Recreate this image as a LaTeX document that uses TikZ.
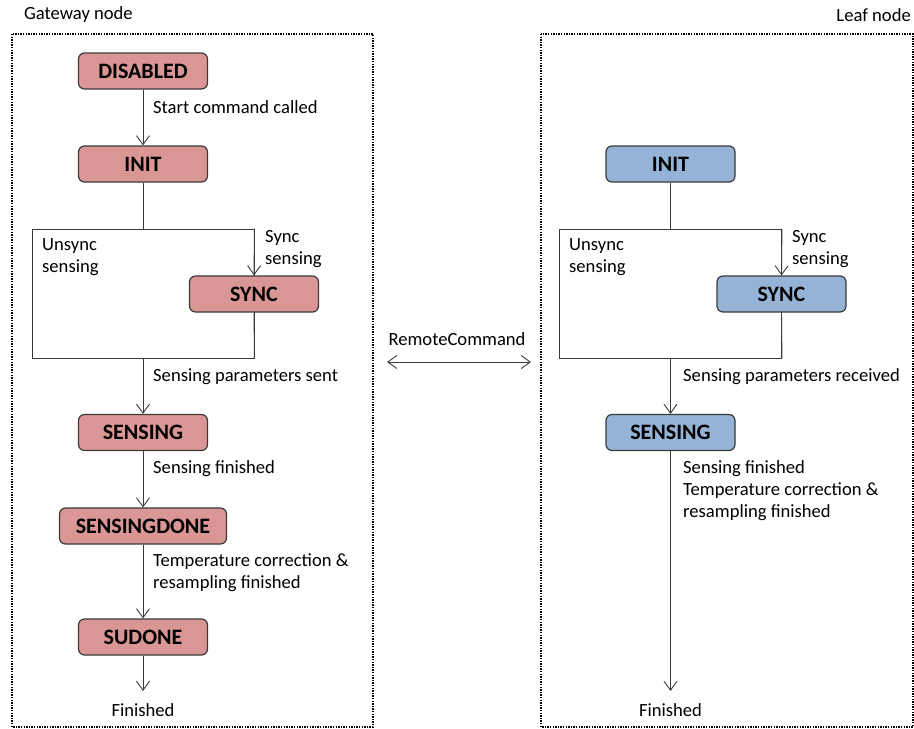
\documentclass[tikz,border=0pt]{standalone}
\usepackage{fontspec}
\setmainfont{Carlito}
\usetikzlibrary{arrows.meta}
\definecolor{redfill}{HTML}{D99694}
\definecolor{bluefill}{HTML}{95B3D7}
\definecolor{edge}{HTML}{3A3A3A}
\begin{document}
\begin{tikzpicture}[x=1pt,y=-1pt,
  stbox/.style={draw=edge, line width=1.2pt, rounded corners=6pt, minimum width=129pt, minimum height=36pt, inner sep=0pt, font=\fontsize{22}{26}\selectfont\bfseries},
  rbox/.style={stbox, fill=redfill},
  bbox/.style={stbox, fill=bluefill},
  lbl/.style={inner sep=0pt, align=left, font=\fontsize{18.6}{22}\selectfont},
  arr/.style={draw=edge, line width=0.9pt, -{Straight Barb[length=9pt,width=13pt]}},
  ln/.style={draw=edge, line width=0.9pt},
  grp/.style={draw=edge, line width=0.9pt, inner sep=0pt, minimum width=222pt, minimum height=129pt},
  frame/.style={draw=black, line width=1.4pt, dash pattern=on 1.4pt off 1.2pt}
]
\useasboundingbox (0,0) rectangle (914,729);
% frames
\draw[frame] (12,34) rectangle (373,727);
\draw[frame] (541,34) rectangle (913,727);
\node[lbl, anchor=west] (gw) at (24,15) {Gateway node};
\node[lbl, anchor=east] (lf) at (911,15) {Leaf node};

% left column
\node[rbox] (ldis) at (143,71) {DISABLED};
\node[rbox] (linit) at (143,164) {INIT};
\node[grp] (lrect) at (143,293.5) {};
\node[rbox] (lsync) at (254,294) {SYNC};
\node[rbox] (lsens) at (143,432.5) {SENSING};
\node[rbox, minimum width=167pt] (ldone) at (143,526) {SENSINGDONE};
\node[rbox] (lsud) at (143,637) {SUDONE};
\coordinate (lend) at (143,691);
\node[lbl] (lfin) at (143,710) {Finished};

\draw[arr] (ldis) -- (linit);
\draw[ln] (linit) -- (lrect.north);
\draw[arr] (lrect.north east) -- (lsync.north);
\draw[ln] (lsync.south) -- (lrect.south east);
\draw[arr] (lrect.south) -- (lsens);
\draw[arr] (lsens) -- (ldone);
\draw[arr] (ldone) -- (lsud);
\draw[arr] (lsud) -- (lend);

\node[lbl, anchor=west] (t1) at (153,107) {Start command called};
\node[lbl, anchor=west] (t2) at (42,257) {Unsync\\sensing};
\node[lbl, anchor=west] (t3) at (265,249) {Sync\\sensing};
\node[lbl, anchor=west] (t4) at (153,377) {Sensing parameters sent};
\node[lbl, anchor=west] (t5) at (153,469) {Sensing finished};
\node[lbl, anchor=west] (t6) at (153,573) {Temperature correction \&\\resampling finished};

% middle
\node[lbl] (rc) at (457,339) {RemoteCommand};
\coordinate (ra) at (387,362);
\coordinate (rb) at (531,362);
\draw[draw=edge, line width=0.9pt, {Straight Barb[length=9pt,width=13pt]}-{Straight Barb[length=9pt,width=13pt]}] (ra) -- (rb);

% right column
\node[bbox] (rinit) at (670.5,164) {INIT};
\node[grp] (rrect) at (670.5,293.5) {};
\node[bbox] (rsync) at (781.5,294) {SYNC};
\node[bbox] (rsens) at (670.5,432.5) {SENSING};
\coordinate (rend) at (670.5,691);
\node[lbl] (rfin) at (670.5,710) {Finished};

\draw[ln] (rinit) -- (rrect.north);
\draw[arr] (rrect.north east) -- (rsync.north);
\draw[ln] (rsync.south) -- (rrect.south east);
\draw[arr] (rrect.south) -- (rsens);
\draw[arr] (rsens) -- (rend);

\node[lbl, anchor=west] (u2) at (569,257) {Unsync\\sensing};
\node[lbl, anchor=west] (u3) at (792,249) {Sync\\sensing};
\node[lbl, anchor=west] (u4) at (683,377) {Sensing parameters received};
\node[lbl, anchor=west] (u5) at (683,491) {Sensing finished\\Temperature correction \&\\resampling finished};
\end{tikzpicture}
\end{document}
